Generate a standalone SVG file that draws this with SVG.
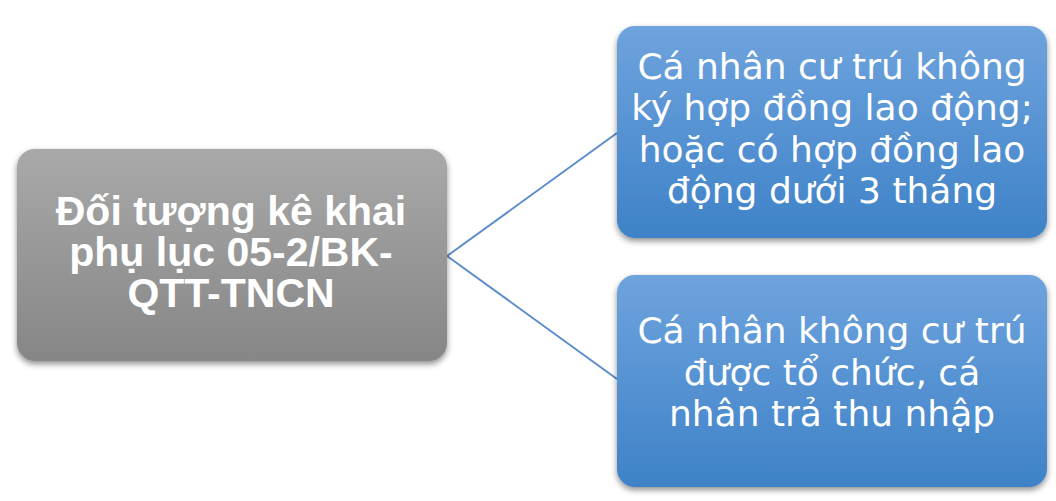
<svg xmlns="http://www.w3.org/2000/svg" width="1056" height="501" viewBox="0 0 1056 501">
  <style>
    .gray { fill: url(#gGray); }
    .blue { fill: url(#gBlue); }
    .conn { stroke: #5b8ccc; stroke-width: 2; fill: none; }
    .tl { font-family: "Liberation Sans", Arial, sans-serif; font-weight: bold; font-size: 41px; fill: #ffffff; text-anchor: middle; }
    .tr { font-family: "DejaVu Sans", Verdana, sans-serif; font-size: 36px; fill: #ffffff; text-anchor: middle; }
  </style>
  <defs>
    <linearGradient id="gGray" x1="0" y1="0" x2="0" y2="1">
      <stop offset="0" stop-color="#a9a9a9"/>
      <stop offset="1" stop-color="#868686"/>
    </linearGradient>
    <linearGradient id="gBlue" x1="0" y1="0" x2="0" y2="1">
      <stop offset="0" stop-color="#6ea3dd"/>
      <stop offset="1" stop-color="#3e82c8"/>
    </linearGradient>
    <filter id="sh" x="-10%" y="-10%" width="120%" height="125%">
      <feGaussianBlur in="SourceAlpha" stdDeviation="3"/>
      <feOffset dx="0" dy="3" result="b"/>
      <feComponentTransfer><feFuncA type="linear" slope="0.45"/></feComponentTransfer>
      <feMerge><feMergeNode/><feMergeNode in="SourceGraphic"/></feMerge>
    </filter>
  </defs>
  <rect width="1056" height="501" fill="#ffffff"/>
  <g id="connectors">
    <line class="conn" x1="447" y1="256" x2="617" y2="133"/>
    <line class="conn" x1="447" y1="256" x2="617" y2="379"/>
  </g>
  <g id="node-main">
    <rect class="gray" x="17" y="149" width="430" height="212" rx="18" filter="url(#sh)"/>
    <text class="tl" x="231" y="225">Đối tượng kê khai</text>
    <text class="tl" x="231" y="266">phụ lục 05-2/BK-</text>
    <text class="tl" x="231" y="307">QTT-TNCN</text>
  </g>
  <g id="node-resident">
    <rect class="blue" x="617" y="26" width="430" height="212" rx="18" filter="url(#sh)"/>
    <text class="tr" x="832" y="79">Cá nhân cư trú không</text>
    <text class="tr" x="832" y="120">ký hợp đồng lao động;</text>
    <text class="tr" x="832" y="162">hoặc có hợp đồng lao</text>
    <text class="tr" x="832" y="203">động dưới 3 tháng</text>
  </g>
  <g id="node-nonresident">
    <rect class="blue" x="617" y="275" width="430" height="212" rx="18" filter="url(#sh)"/>
    <text class="tr" x="832" y="343">Cá nhân không cư trú</text>
    <text class="tr" x="832" y="385">được tổ chức, cá</text>
    <text class="tr" x="832" y="426">nhân trả thu nhập</text>
  </g>
</svg>
